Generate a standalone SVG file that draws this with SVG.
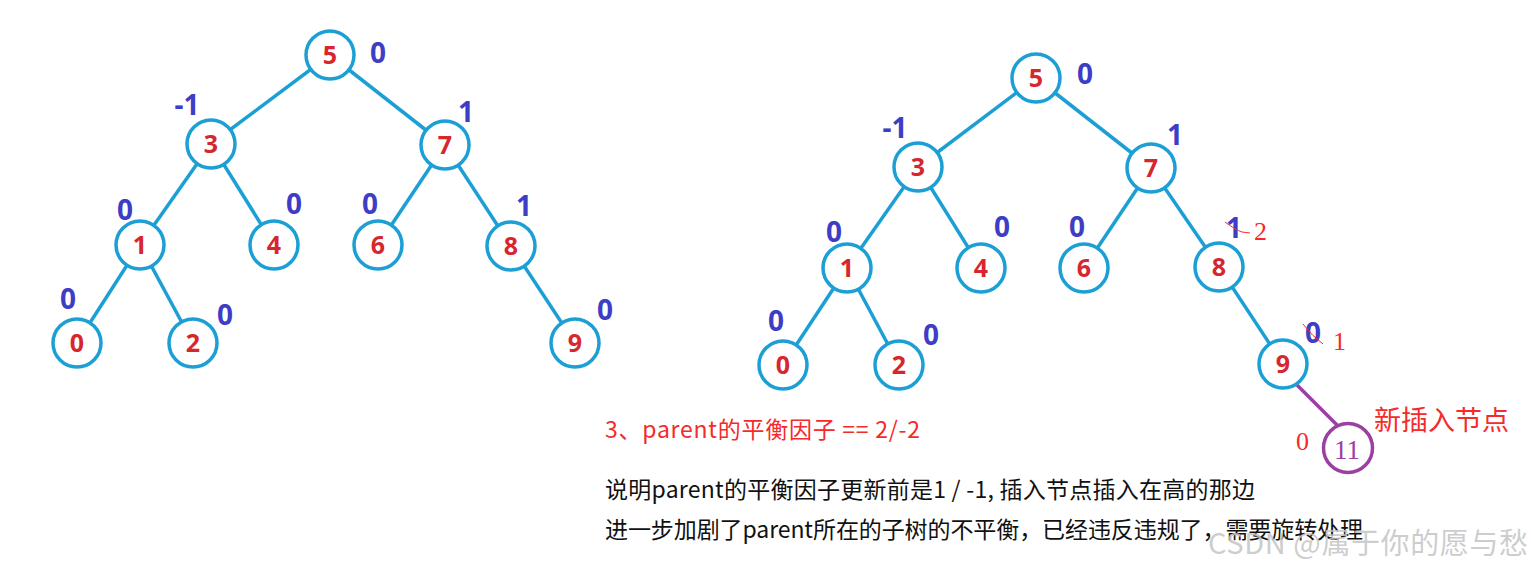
<svg xmlns="http://www.w3.org/2000/svg" width="1531" height="567" viewBox="0 0 1531 567">
<style>
.e{stroke:#1b9fd5;stroke-width:3.5;fill:none}
.c{fill:#fff;stroke:#1b9fd5;stroke-width:3.5}
.v{font-family:"Noto Sans","Liberation Sans",sans-serif;font-weight:bold;font-size:25px;fill:#d7262e;text-anchor:middle}
.b{font-family:"Noto Sans","Liberation Sans",sans-serif;font-weight:bold;font-size:28px;fill:#3d3dc6;text-anchor:middle}
.r{font-family:"Liberation Serif","Noto Sans CJK SC",serif;font-size:26px;fill:#f52a2a}
.t{font-family:"Noto Sans CJK SC","Noto Sans",sans-serif;font-size:23px;fill:#111}
</style>
<rect width="1531" height="567" fill="#fff"/>
<g id="connectors">
<line class="e" x1="330" y1="55" x2="211" y2="144"/>
<line class="e" x1="330" y1="55" x2="445" y2="145"/>
<line class="e" x1="211" y1="144" x2="140" y2="245"/>
<line class="e" x1="211" y1="144" x2="274" y2="245"/>
<line class="e" x1="445" y1="145" x2="378" y2="245"/>
<line class="e" x1="445" y1="145" x2="511" y2="246"/>
<line class="e" x1="140" y1="245" x2="77" y2="343"/>
<line class="e" x1="140" y1="245" x2="193" y2="343"/>
<line class="e" x1="511" y1="246" x2="575" y2="343"/>
<line class="e" x1="1036" y1="78" x2="918" y2="167"/>
<line class="e" x1="1036" y1="78" x2="1151" y2="168"/>
<line class="e" x1="918" y1="167" x2="847" y2="268"/>
<line class="e" x1="918" y1="167" x2="981" y2="268"/>
<line class="e" x1="1151" y1="168" x2="1084" y2="268"/>
<line class="e" x1="1151" y1="168" x2="1219" y2="267"/>
<line class="e" x1="847" y1="268" x2="783" y2="365"/>
<line class="e" x1="847" y1="268" x2="899" y2="365"/>
<line class="e" x1="1219" y1="267" x2="1283" y2="364"/>
<line x1="1297" y1="385" x2="1337" y2="425" stroke="#9b3fa3" stroke-width="3.5"/>
</g>
<g id="L5"><circle class="c" cx="330" cy="55" r="24"/><text class="v" x="330" y="64">5</text><text class="b" x="378" y="63">0</text></g>
<g id="L3"><circle class="c" cx="211" cy="144" r="24"/><text class="v" x="211" y="153">3</text><text class="b" x="187" y="115">-1</text></g>
<g id="L7"><circle class="c" cx="445" cy="145" r="24"/><text class="v" x="445" y="154">7</text><text class="b" x="466" y="122">1</text></g>
<g id="L1"><circle class="c" cx="140" cy="245" r="24"/><text class="v" x="140" y="254">1</text><text class="b" x="125" y="220">0</text></g>
<g id="L4"><circle class="c" cx="274" cy="245" r="24"/><text class="v" x="274" y="254">4</text><text class="b" x="294" y="214">0</text></g>
<g id="L6"><circle class="c" cx="378" cy="245" r="24"/><text class="v" x="378" y="254">6</text><text class="b" x="370" y="214">0</text></g>
<g id="L8"><circle class="c" cx="511" cy="246" r="24"/><text class="v" x="511" y="255">8</text><text class="b" x="524" y="216">1</text></g>
<g id="L0"><circle class="c" cx="77" cy="343" r="24"/><text class="v" x="77" y="352">0</text><text class="b" x="68" y="309">0</text></g>
<g id="L2"><circle class="c" cx="193" cy="343" r="24"/><text class="v" x="193" y="352">2</text><text class="b" x="225" y="325">0</text></g>
<g id="L9"><circle class="c" cx="575" cy="343" r="24"/><text class="v" x="575" y="352">9</text><text class="b" x="605" y="320">0</text></g>
<g id="R5"><circle class="c" cx="1036" cy="78" r="24"/><text class="v" x="1036" y="87">5</text><text class="b" x="1085" y="84">0</text></g>
<g id="R3"><circle class="c" cx="918" cy="167" r="24"/><text class="v" x="918" y="176">3</text><text class="b" x="895" y="138">-1</text></g>
<g id="R7"><circle class="c" cx="1151" cy="168" r="24"/><text class="v" x="1151" y="177">7</text><text class="b" x="1175" y="145">1</text></g>
<g id="R1"><circle class="c" cx="847" cy="268" r="24"/><text class="v" x="847" y="277">1</text><text class="b" x="834" y="242">0</text></g>
<g id="R4"><circle class="c" cx="981" cy="268" r="24"/><text class="v" x="981" y="277">4</text><text class="b" x="1002" y="237">0</text></g>
<g id="R6"><circle class="c" cx="1084" cy="268" r="24"/><text class="v" x="1084" y="277">6</text><text class="b" x="1077" y="237">0</text></g>
<g id="R8"><circle class="c" cx="1219" cy="267" r="24"/><text class="v" x="1219" y="276">8</text><text class="b" x="1234" y="238">1</text><path d="M1225,222 Q1236,230 1242,232 L1250,233" fill="none" stroke="#f52a2a" stroke-width="1"/><text class="r" x="1254" y="240">2</text></g>
<g id="R0"><circle class="c" cx="783" cy="365" r="24"/><text class="v" x="783" y="374">0</text><text class="b" x="776" y="331">0</text></g>
<g id="R2"><circle class="c" cx="899" cy="365" r="24"/><text class="v" x="899" y="374">2</text><text class="b" x="931" y="345">0</text></g>
<g id="R9"><circle class="c" cx="1283" cy="364" r="24"/><text class="v" x="1283" y="373">9</text><text class="b" x="1313" y="343">0</text><path d="M1303,324 Q1312,336 1323,344" fill="none" stroke="#f52a2a" stroke-width="1"/><text class="r" x="1333" y="350">1</text></g>
<g id="N11"><circle cx="1348" cy="448" r="24.5" fill="#fff" stroke="#9b3fa3" stroke-width="3.5"/><text x="1347" y="459" font-family="Liberation Serif,serif" font-size="27" fill="#9b3fa3" text-anchor="middle">11</text><text class="r" x="1296" y="450">0</text><text x="1374" y="430" font-family="Noto Sans CJK SC,sans-serif" font-size="27" fill="#f52a2a">新插入节点</text></g>
<g id="notes">
<text x="605" y="438" font-family="Noto Sans CJK SC,Noto Sans,sans-serif" font-size="23" fill="#f52a2a" textLength="315">3、parent的平衡因子 == 2/-2</text>
<text class="t" x="605" y="498" textLength="650">说明parent的平衡因子更新前是1 / -1, 插入节点插入在高的那边</text>
<text class="t" x="605" y="538" textLength="758">进一步加剧了parent所在的子树的不平衡，已经违反违规了，需要旋转处理</text>
<text x="1208" y="554" font-family="Noto Sans CJK SC,sans-serif" font-size="29" fill="#c4c4c4" fill-opacity="0.85" textLength="320">CSDN @属于你的愿与愁</text>
</g>
</svg>
